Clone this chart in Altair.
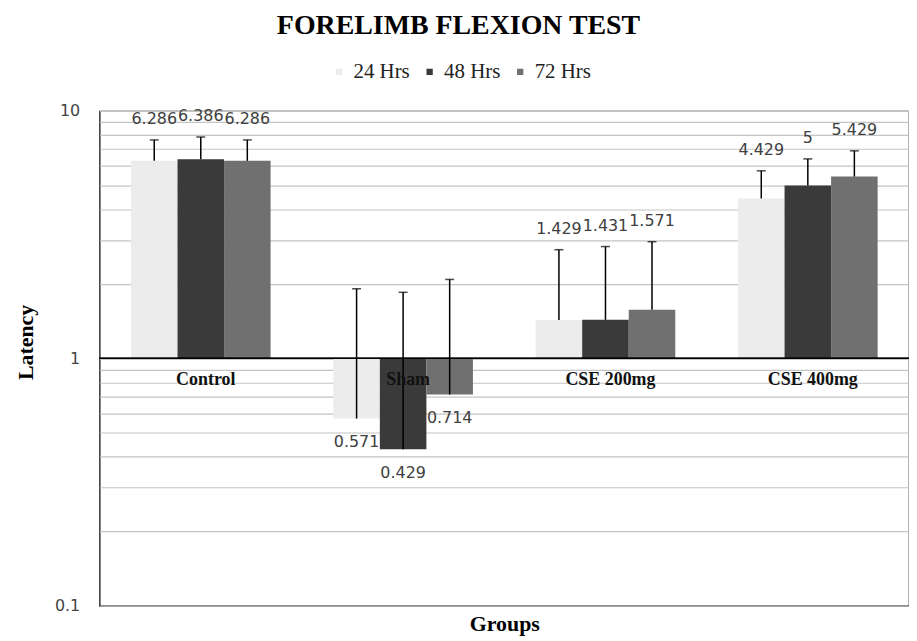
import altair as alt
import pandas as pd

groups = ["Control", "Sham", "CSE 200mg", "CSE 400mg"]
series = ["24 Hrs", "48 Hrs", "72 Hrs"]
values = {
    "24 Hrs": [6.286, 0.571, 1.429, 4.429],
    "48 Hrs": [6.386, 0.429, 1.431, 5.0],
    "72 Hrs": [6.286, 0.714, 1.571, 5.429],
}
errors = {
    "24 Hrs": [1.35, 1.34, 1.32, 1.30],
    "48 Hrs": [1.46, 1.42, 1.40, 1.40],
    "72 Hrs": [1.35, 1.37, 1.39, 1.47],
}
labels = {
    "24 Hrs": ["6.286", "0.571", "1.429", "4.429"],
    "48 Hrs": ["6.386", "0.429", "1.431", "5"],
    "72 Hrs": ["6.286", "0.714", "1.571", "5.429"],
}
y_ticks = [0.1, 0.2, 0.3, 0.4, 0.5, 0.6, 0.7, 0.8, 0.9,
           1, 2, 3, 4, 5, 6, 7, 8, 9, 10]
fills = ["#ececec", "#3a3a3a", "#707070"]

rows = []
for s in series:
    for i, g in enumerate(groups):
        v = values[s][i]
        rows.append({"group": g, "series": s, "value": v, "base": 1.0,
                     "upper": v + errors[s][i], "label": labels[s][i]})
df = pd.DataFrame(rows)
cat_df = pd.DataFrame({"group": groups, "one": [1.0] * len(groups)})

x_enc = alt.X("group:N", sort=groups,
              scale=alt.Scale(paddingInner=0.31, paddingOuter=0.155),
              axis=alt.Axis(title="Groups", labels=False, ticks=False, domain=False,
                            titleFont="Liberation Serif", titleFontSize=22,
                            titleFontWeight="bold", titleColor="#000", titlePadding=8))
xoff = alt.XOffset("series:N", sort=series, scale=alt.Scale(paddingInner=0, paddingOuter=0))
y_scale = alt.Scale(type="log", domain=[0.1, 10], nice=False)

base = alt.Chart(df)

bars = base.mark_bar(stroke=None).encode(
    x=x_enc,
    xOffset=xoff,
    y=alt.Y("value:Q", scale=y_scale,
            axis=alt.Axis(title="Latency", values=y_ticks,
                          labelExpr="datum.value == 0.1 ? '0.1' : datum.value == 1 ? '1' : datum.value == 10 ? '10' : ''",
                          grid=True, gridColor="#c4c4c4", gridWidth=1.2,
                          ticks=False, domain=False,
                          labelFont="DejaVu Sans", labelFontSize=16, labelColor="#444",
                          labelPadding=20,
                          titleFont="Liberation Serif", titleFontSize=22,
                          titleFontWeight="bold", titleColor="#000", titlePadding=17,
                          titleY=232)),
    y2="base:Q",
    color=alt.Color("series:N", sort=series,
                    scale=alt.Scale(domain=series, range=fills),
                    legend=alt.Legend(title=None, orient="none", direction="horizontal",
                                      legendX=230, legendY=-50,
                                      symbolType="square", symbolSize=40,
                                      symbolStrokeWidth=0,
                                      labelFont="Liberation Serif", labelFontSize=21,
                                      labelColor="#222", columnPadding=9)),
)

one_line = alt.Chart(cat_df).mark_rule(color="#000", strokeWidth=1.3).encode(
    y=alt.datum(1, type="quantitative", scale=y_scale)
)

err_rule = base.mark_rule(color="#000", strokeWidth=1.5).encode(
    x=alt.X("group:N", sort=groups), xOffset=xoff,
    y=alt.Y("value:Q", scale=y_scale), y2="upper:Q",
)
err_cap = base.mark_tick(color="#000", thickness=1.5, size=9, orient="horizontal").encode(
    x=alt.X("group:N", sort=groups), xOffset=xoff,
    y=alt.Y("upper:Q", scale=y_scale),
)

lbl_up = base.transform_filter("datum.value >= 1").mark_text(
    font="DejaVu Sans", fontSize=16, color="#404040", baseline="bottom", dy=-13
).encode(
    x=alt.X("group:N", sort=groups), xOffset=xoff,
    y=alt.Y("upper:Q", scale=y_scale), text="label:N",
)
lbl_down = base.transform_filter("datum.value < 1").mark_text(
    font="DejaVu Sans", fontSize=16, color="#404040", baseline="top", dy=16
).encode(
    x=alt.X("group:N", sort=groups), xOffset=xoff,
    y=alt.Y("value:Q", scale=y_scale), text="label:N",
)

cat_text = alt.Chart(cat_df).mark_text(
    font="Liberation Serif", fontSize=18, fontWeight="bold", color="#111",
    baseline="middle", dy=22, dx=5
).encode(
    x=alt.X("group:N", sort=groups),
    y=alt.Y("one:Q", scale=y_scale),
    text="group:N",
)

chart = alt.layer(bars, one_line, err_rule, err_cap, lbl_up, lbl_down, cat_text).properties(
    width=813, height=497,
    title=alt.TitleParams("FORELIMB FLEXION TEST", font="Liberation Serif", fontSize=28,
                          fontWeight="bold", color="#000", anchor="middle", dx=-46, offset=21),
    autosize=alt.AutoSizeParams(type="none"),
    padding={"left": 92, "top": 102, "right": 0, "bottom": 33},
    background="white",
).configure_view(stroke="#000", strokeWidth=1.2)

chart.save("out.html", embed_options={"renderer": "svg", "actions": False})
